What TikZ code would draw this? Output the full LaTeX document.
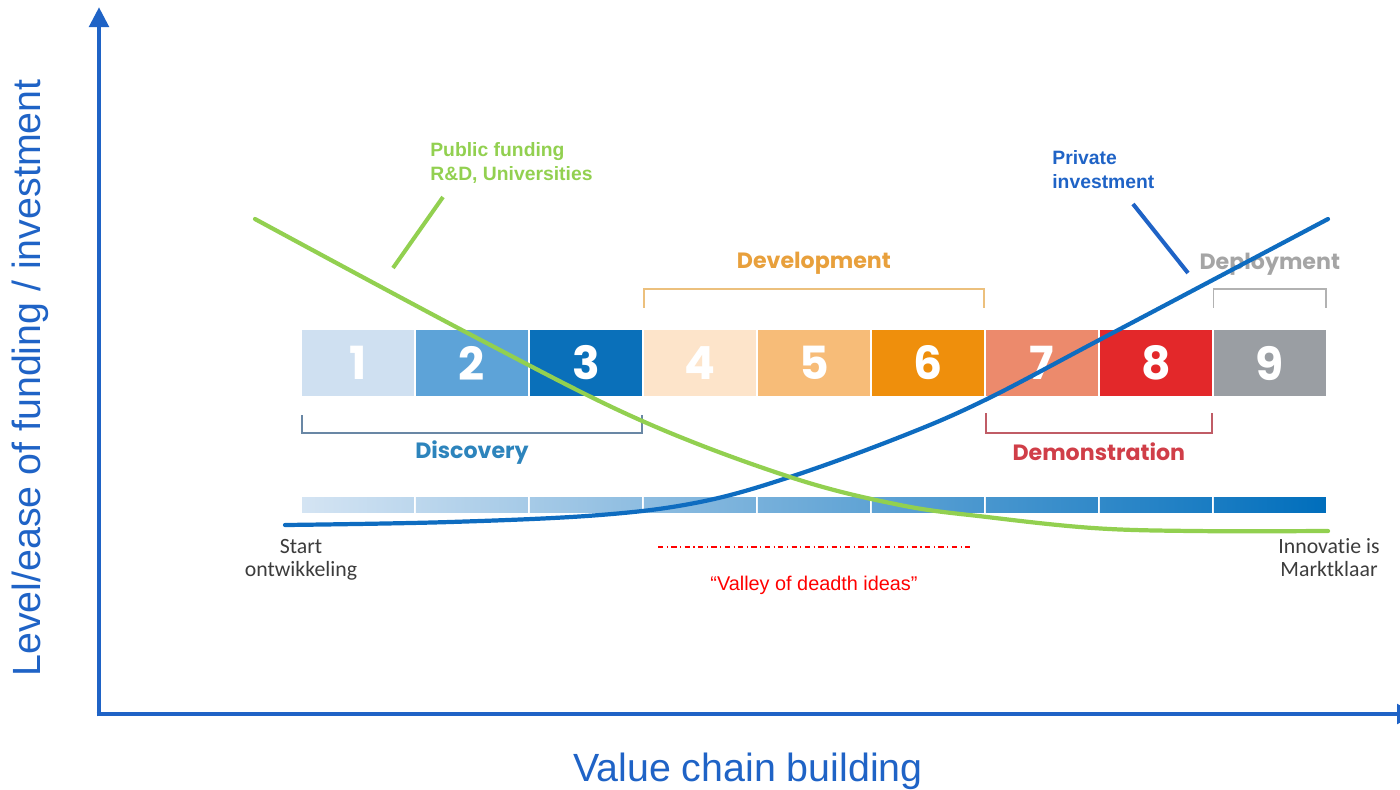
\documentclass[tikz,border=0pt]{standalone}
\usepackage{fontspec}
\setmainfont{Liberation Sans}
\newfontfamily\stagefont{Poppins}
\newfontfamily\notefont[Ligatures=NoCommon]{Carlito}
\usetikzlibrary{arrows.meta,positioning}

\definecolor{axisblue}{RGB}{31,99,198}
\definecolor{pubgreen}{RGB}{146,208,80}
\definecolor{privblue}{RGB}{14,108,192}
\definecolor{trl1}{RGB}{207,224,241}
\definecolor{trl2}{RGB}{93,163,216}
\definecolor{trl3}{RGB}{10,112,186}
\definecolor{trl4}{RGB}{253,228,202}
\definecolor{trl5}{RGB}{247,188,120}
\definecolor{trl6}{RGB}{239,143,12}
\definecolor{trl7}{RGB}{236,138,108}
\definecolor{trl8}{RGB}{227,40,42}
\definecolor{trl9}{RGB}{154,158,163}
\definecolor{barL}{RGB}{212,228,243}
\definecolor{barR}{RGB}{0,110,188}
\definecolor{discline}{RGB}{105,135,165}
\definecolor{disctext}{RGB}{45,132,188}
\definecolor{devline}{RGB}{236,192,125}
\definecolor{devtext}{RGB}{232,160,60}
\definecolor{demline}{RGB}{192,92,102}
\definecolor{demtext}{RGB}{208,62,72}
\definecolor{deplline}{RGB}{178,178,178}
\definecolor{depltext}{RGB}{165,165,165}
\definecolor{notegray}{RGB}{60,60,60}

\begin{document}
\begin{tikzpicture}[x=0.02cm, y=-0.02cm, node distance=2.28cm, on grid,
	stage/.style={minimum width=2.24cm, minimum height=1.32cm, inner sep=0pt, text=white,
		font=\stagefont\bfseries\fontsize{26}{26}\selectfont},
	barseg/.style={minimum width=2.24cm, minimum height=0.3cm, inner sep=0pt},
	phase/.style={font=\stagefont\bfseries\fontsize{12.6}{13}\selectfont},
	bracket/.style={line width=1.1pt},
	curve/.style={line width=2.4pt, line cap=round},
	leader/.style={line width=2.3pt},
	note/.style={inner sep=0pt, align=left, font=\bfseries\fontsize{11}{13.6}\selectfont},
	endnote/.style={inner sep=0pt, align=center, text=notegray, font=\notefont\fontsize{12.4}{13.2}\selectfont},
	axislabel/.style={inner sep=0pt, text=axisblue, font=\fontsize{22.4}{26}\selectfont},
	axis/.style={line width=2.8pt, draw=axisblue, -{Triangle[width=0.38cm,length=0.4cm]}}]
	\useasboundingbox (0,0) rectangle (1400,789);

	\node [stage, fill=trl1] (b1) at (358,363) {1};
	\node [stage, fill=trl2] (b2) [right=of b1] {2};
	\node [stage, fill=trl3] (b3) [right=of b2] {3};
	\node [stage, fill=trl4] (b4) [right=of b3] {4};
	\node [stage, fill=trl5] (b5) [right=of b4] {5};
	\node [stage, fill=trl6] (b6) [right=of b5] {6};
	\node [stage, fill=trl7] (b7) [right=of b6] {7};
	\node [stage, fill=trl8] (b8) [right=of b7] {8};
	\node [stage, fill=trl9] (b9) [right=of b8] {9};

	\foreach \i in {1,...,9} {
		\pgfmathtruncatemacro\pa{(\i-1)*100/9}
		\pgfmathtruncatemacro\pb{\i*100/9}
		\node [barseg, left color=barR!\pa!barL, right color=barR!\pb!barL] (g\i) [below=2.85cm of b\i] {};
	}

	\draw [bracket, discline] ([yshift=-0.38cm]b1.south west) -- ++(0,-0.36cm) -| ([yshift=-0.38cm]b3.south east);
	\draw [bracket, devline] ([yshift=0.44cm]b4.north west) -- ++(0,0.38cm) -| ([yshift=0.44cm]b6.north east);
	\draw [bracket, demline] ([yshift=-0.34cm]b7.south west) -- ++(0,-0.4cm) -| ([yshift=-0.34cm]b8.south east);
	\draw [bracket, deplline] ([yshift=0.44cm]b9.north west) -- ++(0,0.38cm) -| ([yshift=0.44cm]b9.north east);

	\node [phase, text=disctext] (disc) [below=1.8cm of b2] {Discovery};
	\node [phase, text=devtext] (dev) [above=2cm of b5] {Development};
	\node [phase, text=demtext, xshift=1.14cm] (dem) [below=1.78cm of b7] {Demonstration};
	\node [phase, text=depltext] (depl) [above=1.98cm of b9] {Deployment};

	\draw [curve, privblue] plot [smooth, tension=0.6] coordinates {(285,525) (450,522) (600,515) (700,502) (790,477) (900,437) (985,400) (1103,338) (1328,219)};
	\draw [curve, pubgreen] plot [smooth, tension=0.6] coordinates {(255,219) (477,338) (640,420) (790,477) (900,505) (987,517) (1093,528) (1193,531) (1328,531)};

	\node [note, text=pubgreen, anchor=north west] (pubtxt) at (430,142) {Public funding\\R\&D, Universities};
	\coordinate (pubfoot) at (393,268);
	\coordinate (pubhead) at (443,197);
	\draw [leader, pubgreen] (pubfoot) -- (pubhead);

	\node [note, text=axisblue, anchor=north west] (privtxt) at (1052,150) {Private\\investment};
	\coordinate (privhead) at (1133,204);
	\coordinate (privfoot) at (1188,273);
	\draw [leader, axisblue] (privhead) -- (privfoot);

	\node [endnote, anchor=north] (start) at (301,539) {Start\\ontwikkeling};
	\node [endnote, anchor=north] (ready) at (1329,538) {Innovatie is\\Marktklaar};

	\coordinate (valleyL) at (658,547);
	\coordinate (valleyR) at (970,547);
	\draw [red, line width=0.6pt, dash dot] (valleyL) -- (valleyR);
	\node [text=red, inner sep=0pt, anchor=base, font=\fontsize{11.3}{13}\selectfont] (valley) at (814,590) {“Valley of deadth ideas”};

	\coordinate (origin) at (99,714);
	\coordinate (ytop) at (99,7);
	\coordinate (xend) at (1417,714);
	\draw [axis] ([yshift=-1.4pt]origin) -- (ytop);
	\draw [axis] ([xshift=-1.4pt]origin) -- (xend);

	\node [axislabel, rotate=90] (ylab) at (30,378) {Level/ease of funding / investment};
	\node [axislabel, anchor=base] (xlab) at (748,781) {Value chain building};
\end{tikzpicture}
\end{document}
